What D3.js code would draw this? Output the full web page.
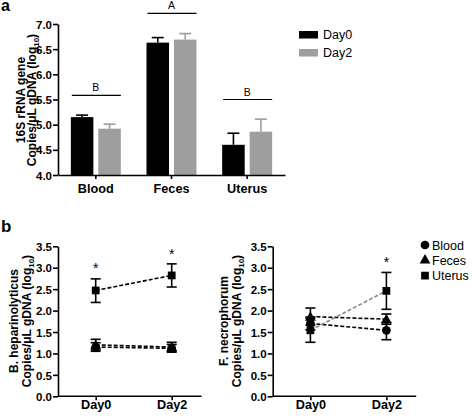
<!DOCTYPE html>
<html><head><meta charset="utf-8">
<script src="https://cdn.jsdelivr.net/npm/d3@7"></script>
<style>
body{margin:0;background:#fff;}
svg{font-family:"Liberation Sans",Arial,sans-serif;}
</style></head>
<body>
<svg id="c" width="472" height="417"></svg>
<script>
// ---------- Data ----------
const categories = ["Blood", "Feces", "Uterus"];
const seriesA = ["Day0", "Day2"];
const day0Means = [5.15, 6.63, 4.60];
const day0Upper = [5.19, 6.73, 4.83];
const day2Means = [4.92, 6.69, 4.86];
const day2Upper = [5.01, 6.81, 5.11];
const groupLetters = ["B", "A", "B"];
const letterLevels = [5.58, 7.21, 5.50];
const yTicksA = [4.0, 4.5, 5.0, 5.5, 6.0, 6.5, 7.0];

const days = ["Day0", "Day2"];
const tissues = ["Blood", "Feces", "Uterus"];
// B. heparinolyticus
const hepMean = { Blood: [1.15, 1.12], Feces: [1.20, 1.15], Uterus: [2.47, 2.82] };
const hepLow  = { Blood: [1.05, 1.03], Feces: [1.08, 1.05], Uterus: [2.19, 2.55] };
const hepHigh = { Blood: [1.25, 1.21], Feces: [1.33, 1.26], Uterus: [2.74, 3.09] };
const hepStars = [3.06, 3.39];
// F. necrophorum
const necMean = { Blood: [1.70, 1.54], Feces: [1.86, 1.80], Uterus: [1.54, 2.46] };
const necLow  = { Blood: [1.55, 1.32], Feces: [1.66, 1.68], Uterus: [1.26, 2.03] };
const necHigh = { Blood: [1.85, 1.72], Feces: [2.06, 1.92], Uterus: [1.82, 2.89] };
const necStars = [null, 3.20];
const yTicksB = [0.0, 0.5, 1.0, 1.5, 2.0, 2.5, 3.0, 3.5];

const colA = { Day0: "#000000", Day2: "#9e9e9e" };

const svg = d3.select("#c");

// ---------- Panel a ----------
const ya = d3.scaleLinear().domain([4, 7]).range([175, 24]);
const xa = d3.scaleBand().domain(categories).range([58, 285]);
const xa1 = d3.scaleBand().domain(seriesA).range([-25, 25]).paddingInner(0.18);

const gA = svg.append("g");
const barData = [];
categories.forEach((c, i) => {
  barData.push({ cat: c, s: "Day0", v: day0Means[i], up: day0Upper[i] });
  barData.push({ cat: c, s: "Day2", v: day2Means[i], up: day2Upper[i] });
});
const cx = c => xa(c) + xa.bandwidth() / 2;
gA.selectAll("rect.bar").data(barData).enter().append("rect")
  .attr("x", d => cx(d.cat) + xa1(d.s))
  .attr("width", xa1.bandwidth())
  .attr("y", d => ya(d.v))
  .attr("height", d => ya(4) - ya(d.v))
  .attr("fill", d => colA[d.s]);
barData.forEach(d => {
  const mx = cx(d.cat) + xa1(d.s) + xa1.bandwidth() / 2;
  gA.append("line").attr("x1", mx).attr("x2", mx).attr("y1", ya(d.v)).attr("y2", ya(d.up))
    .attr("stroke", colA[d.s]).attr("stroke-width", 1.6);
  gA.append("line").attr("x1", mx - 6).attr("x2", mx + 6).attr("y1", ya(d.up)).attr("y2", ya(d.up))
    .attr("stroke", colA[d.s]).attr("stroke-width", 1.6);
});
categories.forEach((c, i) => {
  const y = ya(letterLevels[i]);
  gA.append("line").attr("x1", cx(c) - 24).attr("x2", cx(c) + 25).attr("y1", y).attr("y2", y)
    .attr("stroke", "#000").attr("stroke-width", 1.2);
  gA.append("text").attr("x", cx(c)).attr("y", y - 4).attr("text-anchor", "middle")
    .attr("font-size", 10.5).text(groupLetters[i]);
});
const axYA = gA.append("g").attr("transform", "translate(58,0)")
  .call(d3.axisLeft(ya).tickValues(yTicksA).tickFormat(d3.format(".1f")).tickSize(5).tickSizeOuter(0).tickPadding(1));
const axXA = gA.append("g").attr("transform", "translate(0,175)")
  .call(d3.axisBottom(xa).tickSize(4).tickSizeOuter(0));
[axYA, axXA].forEach(a => {
  a.selectAll("path,line").attr("stroke", "#000").attr("stroke-width", 1.6);
  a.selectAll("text").attr("fill", "#000").attr("font-weight", "bold")
   .attr("font-family", "Liberation Sans, Arial, sans-serif");
});
axYA.selectAll("text").attr("font-size", 11.5).attr("dy", "0.36em");
axXA.selectAll("text").attr("font-size", 12.7).attr("y", 18).attr("dy", 0);

function yTitle(g, x0, cy, off1, off2, line1) {
  g.append("text").attr("transform", `translate(${x0},${cy}) rotate(-90)`)
    .attr("text-anchor", "middle").attr("font-weight", "bold").attr("font-size", 12)
    .attr("y", off1).text(line1);
  const t2 = g.append("text").attr("transform", `translate(${x0},${cy}) rotate(-90)`)
    .attr("text-anchor", "middle").attr("font-weight", "bold").attr("font-size", 12).attr("y", off2);
  t2.append("tspan").text("Copies/μL gDNA (log");
  t2.append("tspan").attr("font-size", 8).attr("dy", 3).text("10");
  t2.append("tspan").attr("dy", -3).text(")");
}
yTitle(gA, 58, 100, -33, -22, "16S rRNA gene");

seriesA.forEach((s, i) => {
  gA.append("rect").attr("x", 299).attr("y", 31 + i * 18).attr("width", 19).attr("height", 7.5).attr("fill", colA[s]);
  gA.append("text").attr("x", 323).attr("y", 39 + i * 18).attr("font-size", 12.5).text(s);
});
svg.append("text").attr("x", 1).attr("y", 11).attr("font-weight", "bold").attr("font-size", 16).text("a");
svg.append("text").attr("x", 1).attr("y", 232).attr("font-weight", "bold").attr("font-size", 17).text("b");

// ---------- Panel b ----------
const yb = d3.scaleLinear().domain([0, 3.5]).range([396.3, 246.3]);
const symType = { Blood: d3.symbolCircle, Feces: d3.symbolTriangle, Uterus: d3.symbolSquare };
const symSize = { Blood: 60, Feces: 50, Uterus: 60 };

function lineChart(x0, means, lows, highs, stars, titleLine1, lineColors, off1, off2) {
  const g = svg.append("g");
  const xb = d3.scalePoint().domain(days).range([x0 + 37.7, x0 + 113.7]);
  const line = d3.line().x((d, i) => xb(days[i])).y(d => yb(d));
  tissues.forEach(t => {
    g.append("path").datum(means[t]).attr("d", line).attr("fill", "none")
      .attr("stroke", lineColors[t]).attr("stroke-width", 1.6).attr("stroke-dasharray", "4,2");
  });
  tissues.forEach(t => {
    days.forEach((dd, i) => {
      const x = xb(dd);
      g.append("line").attr("x1", x).attr("x2", x).attr("y1", yb(lows[t][i])).attr("y2", yb(highs[t][i]))
        .attr("stroke", "#000").attr("stroke-width", 1.6);
      [lows[t][i], highs[t][i]].forEach(v => {
        g.append("line").attr("x1", x - 5).attr("x2", x + 5).attr("y1", yb(v)).attr("y2", yb(v))
          .attr("stroke", "#000").attr("stroke-width", 1.6);
      });
    });
  });
  tissues.forEach(t => {
    days.forEach((dd, i) => {
      g.append("path").attr("d", d3.symbol().type(symType[t]).size(symSize[t])())
        .attr("transform", `translate(${xb(dd)},${yb(means[t][i]) + (t === "Feces" ? 1 : 0)})`).attr("fill", "#000");
    });
  });
  stars.forEach((s, i) => {
    if (s == null) return;
    g.append("text").attr("x", xb(days[i])).attr("y", yb(s) + 8).attr("text-anchor", "middle")
      .attr("font-size", 14).text("*");
  });
  const ay = g.append("g").attr("transform", `translate(${x0},0)`)
    .call(d3.axisLeft(yb).tickValues(yTicksB).tickFormat(d3.format(".1f")).tickSize(5).tickSizeOuter(0).tickPadding(1));
  const ax = g.append("g").attr("transform", "translate(0,396.3)")
    .call(d3.axisBottom(xb).tickSize(4).tickSizeOuter(0));
  ax.select(".domain").remove();
  ax.append("line").attr("x1", x0).attr("x2", x0 + 143.5).attr("y1", 0).attr("y2", 0);
  [ay, ax].forEach(a => {
    a.selectAll("path,line").attr("stroke", "#000").attr("stroke-width", 1.6);
    a.selectAll("text").attr("fill", "#000").attr("font-weight", "bold")
      .attr("font-family", "Liberation Sans, Arial, sans-serif");
  });
  ay.selectAll("text").attr("font-size", 11.5).attr("dy", "0.36em");
  ax.selectAll("text").attr("font-size", 12.7).attr("y", 12.8).attr("dy", 0);
  yTitle(g, x0, 321, off1, off2, titleLine1);
}
lineChart(58, hepMean, hepLow, hepHigh, hepStars, "B. heparinolyticus",
  { Blood: "#000", Feces: "#000", Uterus: "#000" }, -40, -27);
lineChart(272.7, necMean, necLow, necHigh, necStars, "F. necrophorum",
  { Blood: "#000", Feces: "#000", Uterus: "#888" }, -44.5, -31.5);

tissues.forEach((t, i) => {
  const y = 245 + i * 15.3;
  svg.append("path").attr("d", d3.symbol().type(symType[t]).size(symSize[t])())
    .attr("transform", `translate(425,${y})`).attr("fill", "#000");
  svg.append("text").attr("x", 432).attr("y", y + 4.5).attr("font-size", 12.5).text(t);
});
</script>
</body></html>
